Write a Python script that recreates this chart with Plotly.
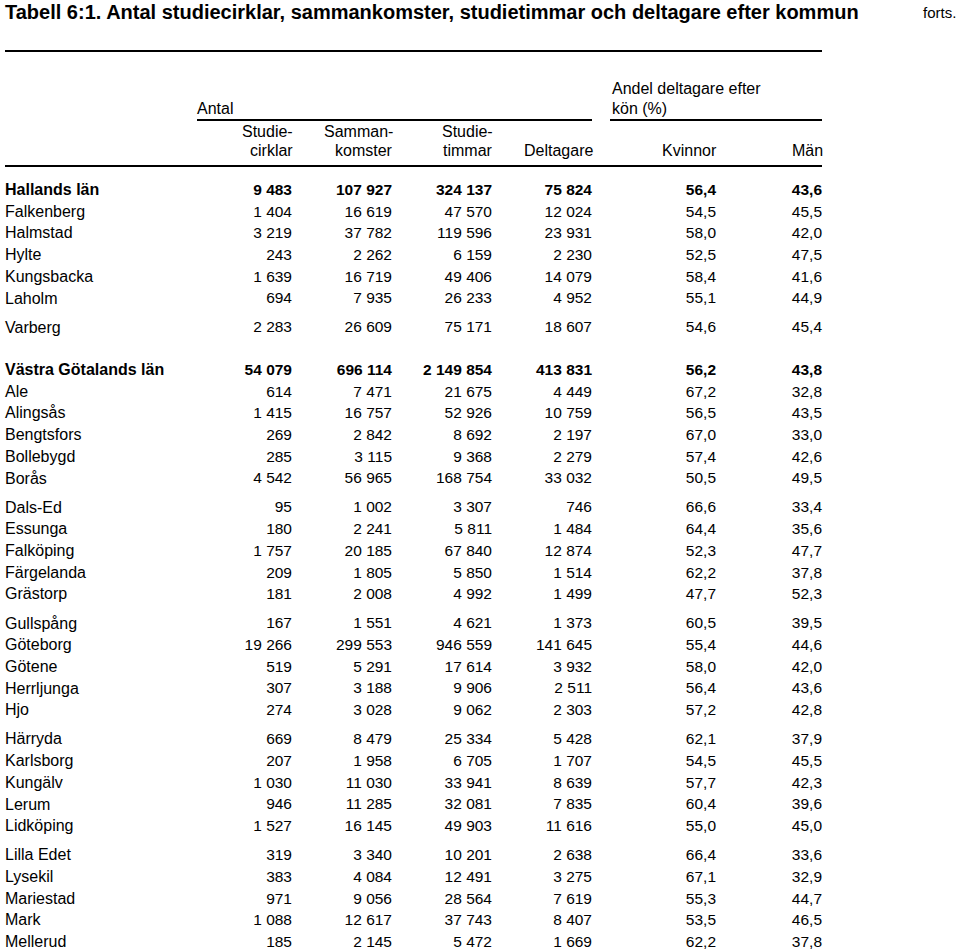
import plotly.graph_objects as go

# ---------------- data ----------------
county_names = ["Hallands län", "Västra Götalands län"]

# groups of rows (names), county rows first in each county block
halland_groups = [
    ["Hallands län", "Falkenberg", "Halmstad", "Hylte", "Kungsbacka", "Laholm"],
    ["Varberg"],
]
vg_groups = [
    ["Västra Götalands län", "Ale", "Alingsås", "Bengtsfors", "Bollebygd", "Borås"],
    ["Dals-Ed", "Essunga", "Falköping", "Färgelanda", "Grästorp"],
    ["Gullspång", "Göteborg", "Götene", "Herrljunga", "Hjo"],
    ["Härryda", "Karlsborg", "Kungälv", "Lerum", "Lidköping"],
    ["Lilla Edet", "Lysekil", "Mariestad", "Mark", "Mellerud"],
]

studiecirklar = [9483, 1404, 3219, 243, 1639, 694, 2283,
                 54079, 614, 1415, 269, 285, 4542,
                 95, 180, 1757, 209, 181,
                 167, 19266, 519, 307, 274,
                 669, 207, 1030, 946, 1527,
                 319, 383, 971, 1088, 185]
sammankomster = [107927, 16619, 37782, 2262, 16719, 7935, 26609,
                 696114, 7471, 16757, 2842, 3115, 56965,
                 1002, 2241, 20185, 1805, 2008,
                 1551, 299553, 5291, 3188, 3028,
                 8479, 1958, 11030, 11285, 16145,
                 3340, 4084, 9056, 12617, 2145]
studietimmar = [324137, 47570, 119596, 6159, 49406, 26233, 75171,
                2149854, 21675, 52926, 8692, 9368, 168754,
                3307, 5811, 67840, 5850, 4992,
                4621, 946559, 17614, 9906, 9062,
                25334, 6705, 33941, 32081, 49903,
                10201, 12491, 28564, 37743, 5472]
deltagare = [75824, 12024, 23931, 2230, 14079, 4952, 18607,
             413831, 4449, 10759, 2197, 2279, 33032,
             746, 1484, 12874, 1514, 1499,
             1373, 141645, 3932, 2511, 2303,
             5428, 1707, 8639, 7835, 11616,
             2638, 3275, 7619, 8407, 1669]
kvinnor = [56.4, 54.5, 58.0, 52.5, 58.4, 55.1, 54.6,
           56.2, 67.2, 56.5, 67.0, 57.4, 50.5,
           66.6, 64.4, 52.3, 62.2, 47.7,
           60.5, 55.4, 58.0, 56.4, 57.2,
           62.1, 54.5, 57.7, 60.4, 55.0,
           66.4, 67.1, 55.3, 53.5, 62.2]
man = [43.6, 45.5, 42.0, 47.5, 41.6, 44.9, 45.4,
       43.8, 32.8, 43.5, 33.0, 42.6, 49.5,
       33.4, 35.6, 47.7, 37.8, 52.3,
       39.5, 44.6, 42.0, 43.6, 42.8,
       37.9, 45.5, 42.3, 39.6, 45.0,
       33.6, 32.9, 44.7, 46.5, 37.8]

title = "Tabell 6:1. Antal studiecirklar, sammankomster, studietimmar och deltagare efter kommun"

# ---------------- layout rules ----------------
W, H = 960, 952
FONT = "Liberation Sans, Arial, sans-serif"
PITCH = 21.7
GAP = 7.4
COUNTY_START = [191.0, 371.0]
LEFT = 5
COL_RIGHT = [292, 392, 492, 592, 716, 822]
ANN_PAD = 2.5   # annotation inner padding compensation

names, ys = [], []
for start, groups in zip(COUNTY_START, [halland_groups, vg_groups]):
    i = 0
    for g, grp in enumerate(groups):
        for nm in grp:
            names.append(nm)
            ys.append(start + PITCH * i + GAP * g)
            i += 1


def fmt_int(v):
    return f"{v:,}".replace(",", " ")


def fmt_pct(v):
    return f"{v:.1f}".replace(".", ",")


def b(txt, nm):
    return f"<b>{txt}</b>" if nm in county_names else txt


columns = [
    [fmt_int(v) for v in studiecirklar],
    [fmt_int(v) for v in sammankomster],
    [fmt_int(v) for v in studietimmar],
    [fmt_int(v) for v in deltagare],
    [fmt_pct(v) for v in kvinnor],
    [fmt_pct(v) for v in man],
]

fig = go.Figure()

fig.add_trace(go.Scatter(
    x=[LEFT] * len(names), y=ys, mode="text",
    text=[b(n, n) for n in names], textposition="middle right",
    textfont=dict(family=FONT, size=16, color="black"),
    hoverinfo="skip", showlegend=False, cliponaxis=False,
))
for xr, col in zip(COL_RIGHT, columns):
    fig.add_trace(go.Scatter(
        x=[xr] * len(col), y=ys, mode="text",
        text=[b(t, n) for t, n in zip(col, names)], textposition="middle left",
        textfont=dict(family=FONT, size=15.5, color="black"),
        hoverinfo="skip", showlegend=False, cliponaxis=False,
    ))

ann = []


def add_text(x, y, t, anchor="left", size=16, bold=False):
    x = x + ANN_PAD if anchor == "right" else x - ANN_PAD
    ann.append(dict(x=x, y=y, xref="x", yref="y", text=(f"<b>{t}</b>" if bold else t),
                    showarrow=False, xanchor=anchor, yanchor="middle",
                    font=dict(family=FONT, size=size, color="black")))


add_text(5, 12, title, size=20, bold=True)
add_text(955, 12, "forts.", anchor="right", size=15)
add_text(197, 108, "Antal")
add_text(612, 88, "Andel deltagare efter")
add_text(612, 108, "kön (%)")
add_text(COL_RIGHT[0], 131, "Studie-", anchor="right")
add_text(COL_RIGHT[0], 150, "cirklar", anchor="right")
add_text(COL_RIGHT[1], 131, "Samman-", anchor="right")
add_text(COL_RIGHT[1], 150, "komster", anchor="right")
add_text(COL_RIGHT[2], 131, "Studie-", anchor="right")
add_text(COL_RIGHT[2], 150, "timmar", anchor="right")
add_text(COL_RIGHT[3], 150, "Deltagare", anchor="right")
add_text(COL_RIGHT[4], 150, "Kvinnor", anchor="right")
add_text(COL_RIGHT[5], 150, "Män", anchor="right")

line = dict(color="black", width=2)
shapes = [
    dict(type="line", xref="x", yref="y", x0=5, x1=822, y0=51, y1=51, line=line),
    dict(type="line", xref="x", yref="y", x0=197, x1=592, y0=120, y1=120, line=line),
    dict(type="line", xref="x", yref="y", x0=610, x1=822, y0=120, y1=120, line=line),
    dict(type="line", xref="x", yref="y", x0=5, x1=822, y0=166, y1=166, line=line),
]

fig.update_layout(
    width=W, height=H, margin=dict(l=0, r=0, t=0, b=0),
    paper_bgcolor="white", plot_bgcolor="white",
    xaxis=dict(range=[0, W], visible=False, fixedrange=True),
    yaxis=dict(range=[H, 0], visible=False, fixedrange=True),
    annotations=ann, shapes=shapes, showlegend=False,
)

# remove the browser's default body margin so axis units equal window pixels
fig.write_html(
    "out.html",
    config={"displayModeBar": False, "staticPlot": True},
    post_script="document.body.style.margin='0px';document.body.style.overflow='hidden';",
)
